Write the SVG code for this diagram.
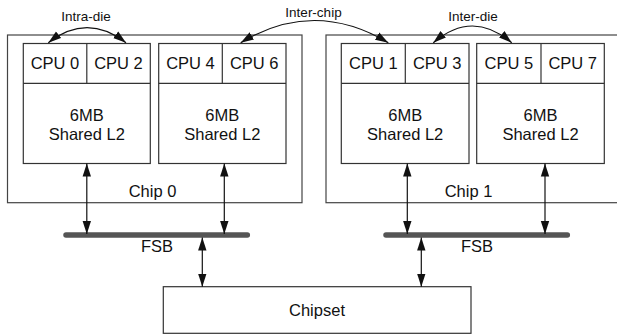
<svg xmlns="http://www.w3.org/2000/svg" width="617" height="335" viewBox="0 0 617 335">
<defs>
<marker id="ah" markerUnits="userSpaceOnUse" markerWidth="14" markerHeight="10" viewBox="0 0 14 10" refX="13" refY="5" orient="auto-start-reverse">
<path d="M0,0.8 L13,5 L0,9.2 Z" fill="#111"/>
</marker>
</defs>
<style>
.box{fill:#fff;stroke:#333;stroke-width:1.2}
.chip{fill:#fff;stroke:#444;stroke-width:1.2}
.t{font-family:"Liberation Sans",Arial,sans-serif;font-size:16.5px;fill:#111;text-anchor:middle}
.s{font-family:"Liberation Sans",Arial,sans-serif;font-size:13.5px;fill:#111;text-anchor:middle}
.c{fill:none;stroke:#111;stroke-width:1.2}
.bus{stroke:#555;stroke-width:5.5;stroke-linecap:round}
</style>
<g id="chip0">
<rect class="chip" x="7.5" y="35" width="294.5" height="167.7"/>
<text class="t" x="152.5" y="196.5">Chip 0</text>
</g>
<g id="chip1">
<rect class="chip" x="326" y="35" width="300" height="167.7"/>
<text class="t" x="468.5" y="196.5">Chip 1</text>
</g>
<g id="die0">
<rect class="box" x="23.3" y="43.5" width="127" height="120"/>
<line class="box" x1="23.3" y1="83.3" x2="150.3" y2="83.3"/>
<line class="box" x1="86.8" y1="43.5" x2="86.8" y2="83.3"/>
<text class="t" x="55" y="69">CPU 0</text>
<text class="t" x="118.5" y="69">CPU 2</text>
<text class="t" x="86.8" y="121">6MB</text>
<text class="t" x="86.8" y="140">Shared L2</text>
</g>
<g id="die1">
<rect class="box" x="158.7" y="43.5" width="127.3" height="120"/>
<line class="box" x1="158.7" y1="83.3" x2="286" y2="83.3"/>
<line class="box" x1="222.3" y1="43.5" x2="222.3" y2="83.3"/>
<text class="t" x="190.5" y="69">CPU 4</text>
<text class="t" x="254.2" y="69">CPU 6</text>
<text class="t" x="222.3" y="121">6MB</text>
<text class="t" x="222.3" y="140">Shared L2</text>
</g>
<g id="die2">
<rect class="box" x="341.3" y="43.5" width="127.7" height="120"/>
<line class="box" x1="341.3" y1="83.3" x2="469" y2="83.3"/>
<line class="box" x1="405.3" y1="43.5" x2="405.3" y2="83.3"/>
<text class="t" x="373.3" y="69">CPU 1</text>
<text class="t" x="437.2" y="69">CPU 3</text>
<text class="t" x="405.2" y="121">6MB</text>
<text class="t" x="405.2" y="140">Shared L2</text>
</g>
<g id="die3">
<rect class="box" x="476.7" y="43.5" width="127.6" height="120"/>
<line class="box" x1="476.7" y1="83.3" x2="604.3" y2="83.3"/>
<line class="box" x1="541" y1="43.5" x2="541" y2="83.3"/>
<text class="t" x="508.8" y="69">CPU 5</text>
<text class="t" x="572.7" y="69">CPU 7</text>
<text class="t" x="540.5" y="121">6MB</text>
<text class="t" x="540.5" y="140">Shared L2</text>
</g>
<g id="fsb0">
<line class="bus" x1="66" y1="235" x2="247.3" y2="235"/>
<text class="t" x="157" y="251.7">FSB</text>
</g>
<g id="fsb1">
<line class="bus" x1="386" y1="235" x2="567.3" y2="235"/>
<text class="t" x="477" y="251.7">FSB</text>
</g>
<g id="chipset">
<rect class="box" x="163.3" y="286.7" width="307.7" height="46.6"/>
<text class="t" x="317" y="316">Chipset</text>
</g>
<g id="connectors">
<path class="c" d="M48.3,42.7 Q87,12.7 126,42.7" marker-start="url(#ah)" marker-end="url(#ah)"/>
<path class="c" d="M240.7,42.7 Q314,-1.7 388.3,42.7" marker-start="url(#ah)" marker-end="url(#ah)"/>
<path class="c" d="M433.3,42.7 Q472.5,9.3 511.7,42.7" marker-start="url(#ah)" marker-end="url(#ah)"/>
<line class="c" x1="86.8" y1="163.5" x2="86.8" y2="234" marker-start="url(#ah)" marker-end="url(#ah)"/>
<line class="c" x1="224.3" y1="163.5" x2="224.3" y2="234" marker-start="url(#ah)" marker-end="url(#ah)"/>
<line class="c" x1="407.3" y1="163.5" x2="407.3" y2="234" marker-start="url(#ah)" marker-end="url(#ah)"/>
<line class="c" x1="545" y1="163.5" x2="545" y2="234" marker-start="url(#ah)" marker-end="url(#ah)"/>
<line class="c" x1="202.3" y1="237.5" x2="202.3" y2="286.7" marker-start="url(#ah)" marker-end="url(#ah)"/>
<line class="c" x1="421.3" y1="237.5" x2="421.3" y2="286.7" marker-start="url(#ah)" marker-end="url(#ah)"/>
</g>
<g id="labels">
<text class="s" x="86" y="20.8">Intra-die</text>
<text class="s" x="313.5" y="17">Inter-chip</text>
<text class="s" x="473" y="20.8">Inter-die</text>
</g>
</svg>
